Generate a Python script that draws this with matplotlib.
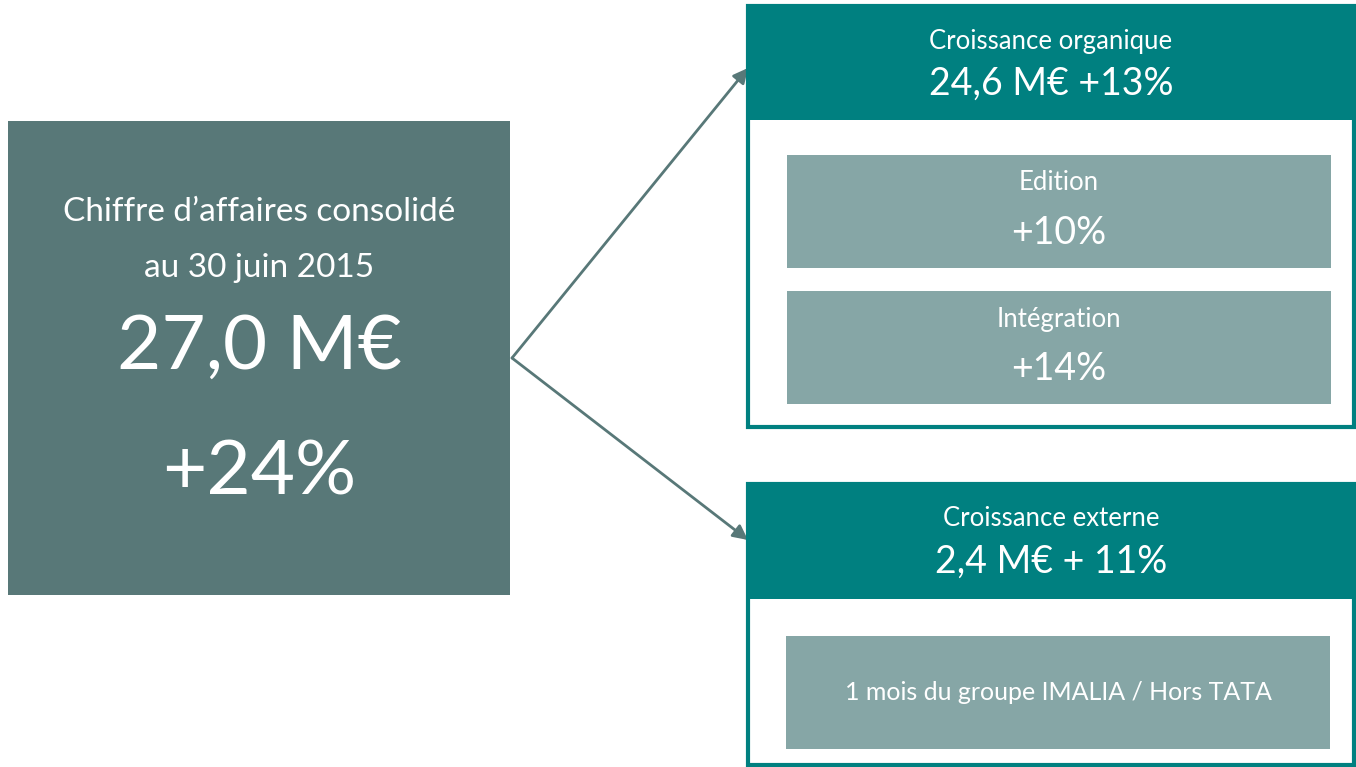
import matplotlib.pyplot as plt
from matplotlib.patches import Rectangle, FancyArrowPatch

plt.rcParams['font.family'] = ['Lato', 'DejaVu Sans']

# texts of the diagram
main_lines = ["Chiffre d\u2019affaires consolidé", "au 30 juin 2015", "27,0 M\u20ac", "+24%"]
group_titles = ["Croissance organique", "Croissance externe"]
group_values = ["24,6 M\u20ac +13%", "2,4 M\u20ac + 11%"]
sub_titles = ["Edition", "Intégration"]
sub_values = ["+10%", "+14%"]
ext_note = "1 mois du groupe IMALIA / Hors TATA"

DARK = '#587878'
TEAL = '#008080'
LIGHT = '#86a6a6'

W, H = 1356, 767
fig = plt.figure(figsize=(W / 100, H / 100), dpi=100)
ax = fig.add_axes([0, 0, 1, 1])
ax.set_xlim(0, W)
ax.set_ylim(H, 0)
ax.axis('off')

# left summary box
ax.add_patch(Rectangle((8, 121), 502, 474, color=DARK, lw=0))
cx = 259
ax.text(cx, 212, main_lines[0], color='white', fontsize=24, ha='center', va='center')
ax.text(cx, 268, main_lines[1], color='white', fontsize=24, ha='center', va='center')
ax.text(cx, 347, main_lines[2], color='white', fontsize=55, ha='center', va='center')
ax.text(cx, 473, main_lines[3], color='white', fontsize=55, ha='center', va='center')

# arrows
for y_end in [68, 540]:
    ax.add_patch(FancyArrowPatch((512, 358), (748, y_end), arrowstyle='-|>',
                                 mutation_scale=22, color=DARK, lw=2,
                                 shrinkA=0, shrinkB=0))

def group_box(y0, y1, header_h, title, value):
    ax.add_patch(Rectangle((748, y0), 606, y1 - y0, facecolor='white',
                           edgecolor=TEAL, lw=3))
    ax.add_patch(Rectangle((748, y0), 606, header_h, color=TEAL, lw=0))
    ax.text(1051, y0 + 35, title, color='white', fontsize=18.5, ha='center', va='center')
    ax.text(1051, y0 + 78, value, color='white', fontsize=27, ha='center', va='center')

group_box(6, 427, 114, group_titles[0], group_values[0])
group_box(484, 765, 115, group_titles[1], group_values[1])

# inner boxes of organic growth
for i, (t, v) in enumerate(zip(sub_titles, sub_values)):
    y0 = 155 + i * 136
    ax.add_patch(Rectangle((787, y0), 544, 113, color=LIGHT, lw=0))
    ax.text(1059, y0 + 28, t, color='white', fontsize=18.5, ha='center', va='center')
    ax.text(1059, y0 + 78, v, color='white', fontsize=27, ha='center', va='center')

# inner box of external growth
ax.add_patch(Rectangle((786, 636), 544, 113, color=LIGHT, lw=0))
ax.text(1058, 693, ext_note, color='white', fontsize=18, ha='center', va='center')

fig.savefig('out.png', dpi=100, facecolor='white')
